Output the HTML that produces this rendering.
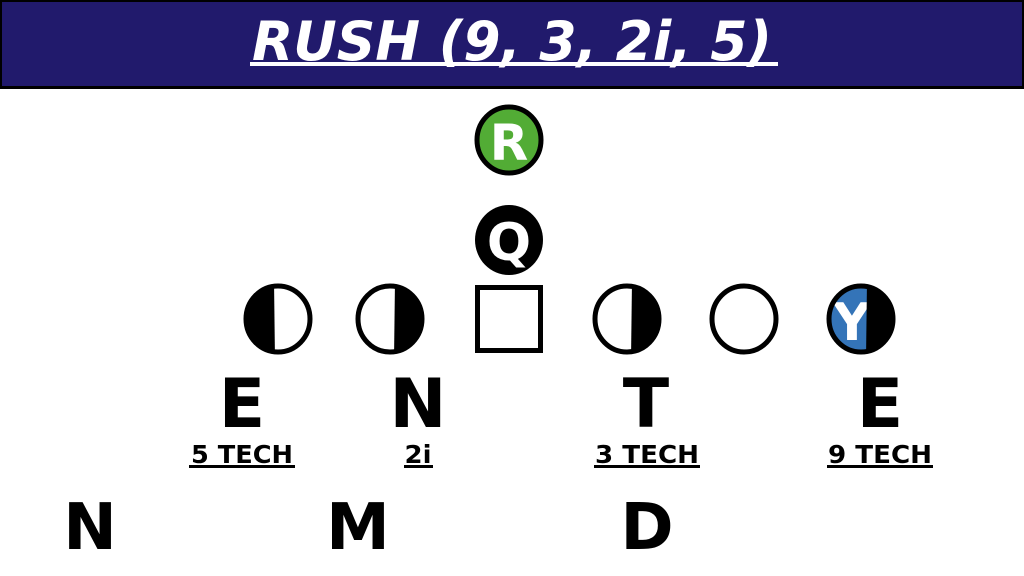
<!DOCTYPE html>
<html><head><meta charset="utf-8"><style>
html,body{margin:0;padding:0;background:#fff;width:1024px;height:576px;overflow:hidden}
text{font-family:"DejaVu Sans","Liberation Sans",sans-serif;font-weight:bold}
</style></head><body>
<svg width="1024" height="576" viewBox="0 0 1024 576" xmlns="http://www.w3.org/2000/svg">
<defs>
<clipPath id="c1"><ellipse cx="278" cy="319" rx="32" ry="33"/></clipPath>
<clipPath id="c2"><ellipse cx="390" cy="319" rx="32" ry="33"/></clipPath>
<clipPath id="c4"><ellipse cx="627" cy="319" rx="32" ry="33"/></clipPath>
<clipPath id="c6"><ellipse cx="861" cy="319" rx="32" ry="33"/></clipPath>
</defs>
<rect x="0" y="0" width="1024" height="89" fill="#000"/>
<rect x="2" y="2" width="1020" height="84" fill="#211a6c"/>
<text x="512" y="60" font-size="54" font-style="italic" fill="#fff" text-anchor="middle" textLength="520" lengthAdjust="spacingAndGlyphs">RUSH (9, 3, 2i, 5)</text>
<rect x="250" y="62" width="528" height="4" fill="#fff"/>

<ellipse cx="509" cy="140" rx="32" ry="33" fill="#52ac35" stroke="#000" stroke-width="5"/>
<text x="509" y="160" font-size="50" fill="#fff" text-anchor="middle">R</text>
<ellipse cx="509" cy="240" rx="34" ry="35" fill="#000"/>
<text x="509" y="260" font-size="52" fill="#fff" text-anchor="middle">Q</text>

<ellipse cx="278" cy="319" rx="32" ry="33" fill="#fff"/>
<polygon points="240,280 274,280 275,360 240,360" fill="#000" clip-path="url(#c1)"/>
<ellipse cx="278" cy="319" rx="32" ry="33" fill="none" stroke="#000" stroke-width="5"/>

<ellipse cx="390" cy="319" rx="32" ry="33" fill="#fff"/>
<polygon points="395,280 430,280 430,360 394,360" fill="#000" clip-path="url(#c2)"/>
<ellipse cx="390" cy="319" rx="32" ry="33" fill="none" stroke="#000" stroke-width="5"/>

<rect x="477.5" y="287.5" width="63" height="63" fill="#fff" stroke="#000" stroke-width="5"/>

<ellipse cx="627" cy="319" rx="32" ry="33" fill="#fff"/>
<polygon points="632,280 670,280 670,360 631,360" fill="#000" clip-path="url(#c4)"/>
<ellipse cx="627" cy="319" rx="32" ry="33" fill="none" stroke="#000" stroke-width="5"/>

<ellipse cx="744" cy="319" rx="32" ry="33" fill="#fff" stroke="#000" stroke-width="5"/>

<ellipse cx="861" cy="319" rx="32" ry="33" fill="#3474b8"/>
<text x="852" y="340" font-size="52" fill="#fff" text-anchor="middle">Y</text>
<polygon points="867,280 900,280 900,360 866,360" fill="#000" clip-path="url(#c6)"/>
<ellipse cx="861" cy="319" rx="32" ry="33" fill="none" stroke="#000" stroke-width="5"/>

<g font-size="68" fill="#000" text-anchor="middle">
<text x="242" y="427">E</text><text x="418" y="427">N</text>
<text x="646" y="427">T</text><text x="880" y="427">E</text>
</g>
<g font-size="25" fill="#000" text-anchor="middle">
<text x="242" y="463" textLength="102" lengthAdjust="spacingAndGlyphs">5 TECH</text>
<text x="418" y="463" textLength="27" lengthAdjust="spacingAndGlyphs">2i</text>
<text x="647" y="463" textLength="104" lengthAdjust="spacingAndGlyphs">3 TECH</text>
<text x="880" y="463" textLength="104" lengthAdjust="spacingAndGlyphs">9 TECH</text>
</g>
<g fill="#000">
<rect x="189" y="465" width="106" height="3"/>
<rect x="404" y="465" width="29" height="3"/>
<rect x="594" y="465" width="106" height="3"/>
<rect x="827" y="465" width="106" height="3"/>
</g>
<g font-size="64" fill="#000" text-anchor="middle">
<text x="90" y="549">N</text><text x="358" y="549">M</text><text x="647" y="549">D</text>
</g>
</svg>
</body></html>
